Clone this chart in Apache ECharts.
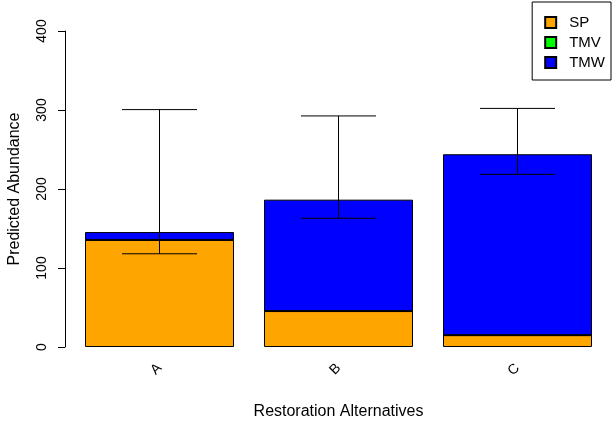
<!DOCTYPE html>
<html>
<head>
<meta charset="utf-8">
<script src="https://cdn.jsdelivr.net/npm/echarts@6/dist/echarts.min.js"></script>
<style>html,body{margin:0;padding:0;background:#fff}#c{width:614px;height:425px}</style>
</head>
<body>
<div id="c"></div>
<script>
const categories = ['A', 'B', 'C'];
const spValues = [135.5, 45.5, 15];
const tmvValues = [0, 0, 0];
const tmwValues = [10, 141, 229];
const errLow = [118, 163, 218.5];
const errHigh = [300.5, 292.5, 302];
const yTicks = [0, 100, 200, 300, 400];

const chart = echarts.init(document.getElementById('c'), null, {renderer: 'canvas'});
const font = 'Liberation Sans, Arial, sans-serif';
const errData = categories.map((c, i) => [i, errLow[i], errHigh[i]]);

chart.setOption({
  animation: false,
  backgroundColor: '#fff',
  textStyle: {fontFamily: font},
  legend: {
    orient: 'vertical',
    right: 3, top: 2,
    data: ['SP', 'TMV', 'TMW'],
    icon: 'rect',
    itemWidth: 11, itemHeight: 11, itemGap: 5,
    padding: [13, 6, 10, 12],
    borderColor: '#000', borderWidth: 1, borderRadius: 0,
    backgroundColor: '#fff',
    textStyle: {fontSize: 15, color: '#000', fontFamily: font, padding: [0, 0, 0, 8]}
  },
  grid: {left: 70, right: 7, top: 31, bottom: 78, containLabel: false, outerBoundsMode: 'none'},
  xAxis: {
    type: 'category',
    data: categories,
    axisLine: {show: false},
    axisTick: {show: false},
    axisLabel: {rotate: 45, margin: 19, fontSize: 14, color: '#000', fontFamily: font},
    name: 'Restoration Alternatives',
    nameLocation: 'middle',
    nameGap: 57,
    nameTextStyle: {fontSize: 16, color: '#000', fontFamily: font}
  },
  yAxis: {
    type: 'value',
    min: yTicks[0], max: yTicks[yTicks.length - 1], interval: 100,
    offset: 5,
    axisLine: {show: true, lineStyle: {color: '#000', width: 1}},
    axisTick: {show: true, length: 7, lineStyle: {color: '#000'}},
    splitLine: {show: false},
    axisLabel: {rotate: 90, margin: 16, fontSize: 14, color: '#000', fontFamily: font},
    name: 'Predicted Abundance',
    nameLocation: 'middle',
    nameGap: 42,
    nameTextStyle: {fontSize: 16, color: '#000', fontFamily: font}
  },
  series: [
    {name: 'SP', type: 'bar', stack: 's', data: spValues, barWidth: 149,
     itemStyle: {color: '#FFA500', borderColor: '#000', borderWidth: 1}},
    {name: 'TMV', type: 'bar', stack: 's', data: tmvValues, barWidth: 149,
     itemStyle: {color: '#00FF00', borderColor: '#000', borderWidth: 1}},
    {name: 'TMW', type: 'bar', stack: 's', data: tmwValues, barWidth: 149,
     itemStyle: {color: '#0000FF', borderColor: '#000', borderWidth: 1}},
    {
      type: 'custom', name: 'err', data: errData, z: 10,
      renderItem: function (params, api) {
        const x = api.value(0);
        const lo = api.coord([x, api.value(1)]);
        const hi = api.coord([x, api.value(2)]);
        const hw = 37.5;
        const st = {stroke: '#000', lineWidth: 1};
        return {type: 'group', children: [
          {type: 'line', shape: {x1: lo[0], y1: lo[1], x2: hi[0], y2: hi[1]}, style: st},
          {type: 'line', shape: {x1: lo[0] - hw, y1: lo[1], x2: lo[0] + hw, y2: lo[1]}, style: st},
          {type: 'line', shape: {x1: hi[0] - hw, y1: hi[1], x2: hi[0] + hw, y2: hi[1]}, style: st}
        ]};
      }
    }
  ]
});
</script>
</body>
</html>
